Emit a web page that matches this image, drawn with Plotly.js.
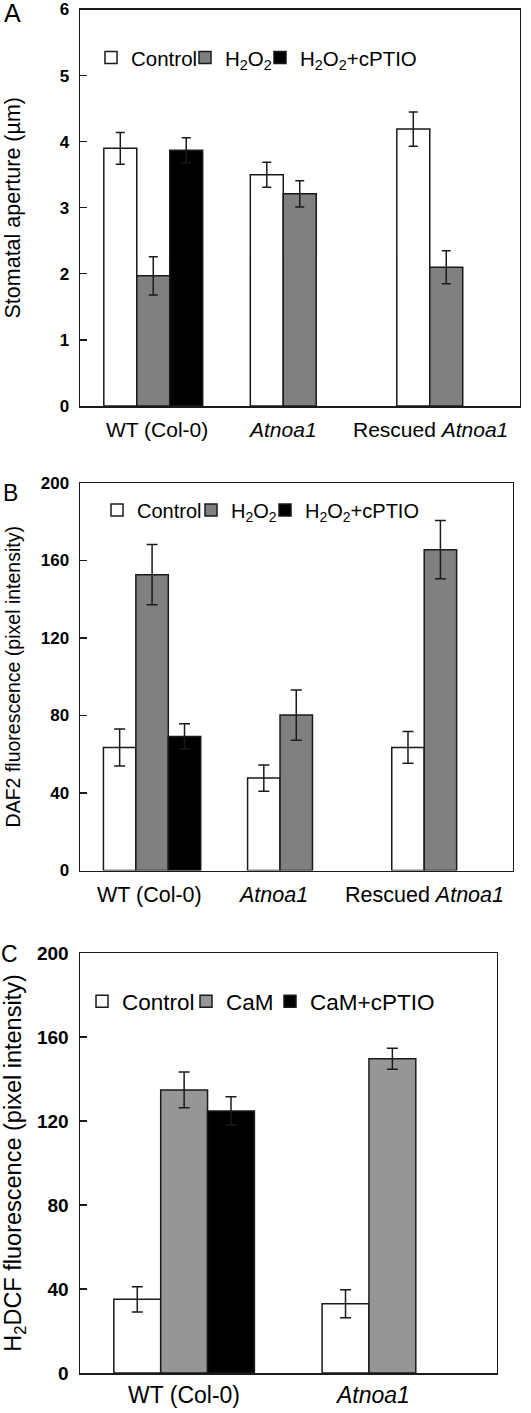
<!DOCTYPE html>
<html><head><meta charset="utf-8">
<script src="https://cdn.plot.ly/plotly-3.0.1.min.js"></script>
<style>html,body{margin:0;padding:0;background:#fff}</style>
</head><body><div id="chart" style="width:531px;height:1413px"></div>
<script>
// ---------- data ----------
const groupsAB = ['WT (Col-0)', 'Atnoa1', 'Rescued Atnoa1'];
const groupLabelsAB = ['WT (Col-0)', '<i>Atnoa1</i>', 'Rescued <i>Atnoa1</i>'];
const groupsC = ['WT (Col-0)', 'Atnoa1'];
const groupLabelsC = ['WT (Col-0)', '<i>Atnoa1</i>'];

const seriesNamesAB = ['Control', 'H<sub>2</sub>O<sub>2</sub>', 'H<sub>2</sub>O<sub>2</sub>+cPTIO'];
const seriesNamesC = ['Control', 'CaM', 'CaM+cPTIO'];

// Panel A: stomatal aperture (µm)
const aControl = [3.90, 3.50, 4.19];
const aControlErr = [0.24, 0.19, 0.26];
const aH2O2 = [1.97, 3.21, 2.10];
const aH2O2Err = [0.29, 0.20, 0.25];
const aCptio = [3.87, null, null];
const aCptioErr = [0.19, null, null];

// Panel B: DAF2 fluorescence
const bControl = [63.5, 47.7, 63.5];
const bControlErr = [9.5, 6.8, 8.2];
const bH2O2 = [152.7, 80.2, 165.6];
const bH2O2Err = [15.5, 13.0, 15.0];
const bCptio = [69.2, null, null];
const bCptioErr = [6.5, null, null];

// Panel C: H2DCF fluorescence
const cControl = [35.1, 33.0];
const cControlErr = [6.0, 6.7];
const cCaM = [134.8, 149.7];
const cCaMErr = [8.5, 5.0];
const cCptio = [124.8, null];
const cCptioErr = [6.8, null];

// ---------- styling ----------
const W = 531, H = 1413;
const FONT = 'Liberation Sans, Arial, sans-serif';
const fx = p => p / W;
const fy = p => 1 - p / H;
const fillsAB = ['#ffffff', '#808080', '#000000'];
const fillsC = ['#ffffff', '#969696', '#000000'];

function bar(x, y, err, name, fill, xa, ya, leg, capw) {
  return {
    type: 'bar', x: x, y: y, name: name, xaxis: xa, yaxis: ya, legend: leg,
    marker: {color: fill, line: {color: '#1a1a1a', width: 1.5}},
    error_y: {type: 'data', array: err, visible: true, color: '#1a1a1a', thickness: 1.5, width: capw},
    hoverinfo: 'skip'
  };
}

const traces = [
  bar(groupsAB, aControl, aControlErr, seriesNamesAB[0], fillsAB[0], 'x', 'y', 'legend', 4.5),
  bar(groupsAB, aH2O2, aH2O2Err, seriesNamesAB[1], fillsAB[1], 'x', 'y', 'legend2', 4.5),
  bar(groupsAB, aCptio, aCptioErr, seriesNamesAB[2], fillsAB[2], 'x', 'y', 'legend3', 4.5),
  bar(groupsAB, bControl, bControlErr, seriesNamesAB[0], fillsAB[0], 'x2', 'y2', 'legend4', 5.5),
  bar(groupsAB, bH2O2, bH2O2Err, seriesNamesAB[1], fillsAB[1], 'x2', 'y2', 'legend5', 5.5),
  bar(groupsAB, bCptio, bCptioErr, seriesNamesAB[2], fillsAB[2], 'x2', 'y2', 'legend6', 5.5),
  bar(groupsC, cControl, cControlErr, seriesNamesC[0], fillsC[0], 'x3', 'y3', 'legend7', 5.5),
  bar(groupsC, cCaM, cCaMErr, seriesNamesC[1], fillsC[1], 'x3', 'y3', 'legend8', 5.5),
  bar(groupsC, cCptio, cCptioErr, seriesNamesC[2], fillsC[2], 'x3', 'y3', 'legend9', 5.5)
];

function xaxis(domain, anchor) {
  return {domain: domain, anchor: anchor, type: 'category', showticklabels: false, ticks: '',
    showline: true, mirror: true, linecolor: '#1a1a1a', linewidth: 1.5, showgrid: false, zeroline: false, fixedrange: true};
}
function yaxis(domain, anchor, range, dtick, tickSize, title, titleSize, standoff) {
  return {domain: domain, anchor: anchor, range: range, dtick: dtick, tick0: 0,
    ticks: 'inside', ticklen: 7, tickwidth: 1.3, tickcolor: '#1a1a1a',
    showline: true, mirror: true, linecolor: '#1a1a1a', linewidth: 1.5,
    showgrid: false, zeroline: false, fixedrange: true, ticklabelstandoff: 6,
    tickfont: {family: FONT, size: tickSize, weight: 'bold', color: '#000'},
    title: {text: title, font: {family: FONT, size: titleSize, color: '#000'}, standoff: standoff}};
}

function legendAt(textStartPx, centerPx, size) {
  return {x: fx(textStartPx - 40), xanchor: 'left', y: fy(centerPx), yanchor: 'middle',
    orientation: 'h', bgcolor: 'rgba(0,0,0,0)', borderwidth: 0,
    font: {family: FONT, size: size, color: '#000'}, itemclick: false, itemdoubleclick: false};
}

const annotations = [];
function catLabels(cats, labels, xa, ya, shifts, yshift, size) {
  cats.forEach((c, i) => annotations.push({
    xref: xa, yref: ya, x: c, y: 0, text: labels[i], showarrow: false,
    xanchor: 'center', yanchor: 'middle', xshift: shifts[i], yshift: yshift,
    font: {family: FONT, size: size, color: '#000'}
  }));
}
catLabels(groupsAB, groupLabelsAB, 'x', 'y', [4, -17, -16], -23, 21);
catLabels(groupsAB, groupLabelsAB, 'x2', 'y2', [-3, -23, -16], -24.5, 21.5);
catLabels(groupsC, groupLabelsC, 'x3', 'y3', [0, -20], -22, 23);

[['A', 12, 12.5, 25], ['B', 10, 493, 23], ['C', 9.5, 954, 23]].forEach(p => annotations.push({
  xref: 'paper', yref: 'paper', x: fx(p[1]), y: fy(p[2]), text: p[0], showarrow: false,
  xanchor: 'center', yanchor: 'middle', font: {family: FONT, size: p[3], color: '#000'}
}));

const layout = {
  width: W, height: H, margin: {l: 0, r: 0, t: 0, b: 0},
  paper_bgcolor: '#fff', plot_bgcolor: '#fff',
  font: {family: FONT, color: '#000'},
  barmode: 'group', bargap: 0.325, bargroupgap: 0,
  xaxis: xaxis([fx(80), fx(519.5)], 'y'),
  yaxis: yaxis([fy(406), fy(9.5)], 'x', [0, 6], 1, 17, 'Stomatal aperture (µm)', 21.5, 33),
  xaxis2: xaxis([fx(80), fx(512.5)], 'y2'),
  yaxis2: yaxis([fy(870.5), fy(483)], 'x2', [0, 200], 40, 17, 'DAF2 fluorescence (pixel intensity)', 19.5, 15),
  xaxis3: xaxis([fx(80), fx(496.5)], 'y3'),
  yaxis3: yaxis([fy(1373), fy(953)], 'x3', [0, 200], 40, 19, 'H<sub>2</sub>DCF fluorescence (pixel intensity)', 23.5, 12),
  legend: legendAt(131, 57.7, 20.5),
  legend2: legendAt(225, 57.7, 20.5),
  legend3: legendAt(300, 57.7, 20.5),
  legend4: legendAt(137, 510, 20),
  legend5: legendAt(231, 510, 20),
  legend6: legendAt(305, 510, 20),
  legend7: legendAt(122, 1001.7, 22.5),
  legend8: legendAt(226, 1001.7, 22.5),
  legend9: legendAt(310, 1001.7, 22.5),
  annotations: annotations,
  showlegend: true
};

Plotly.newPlot('chart', traces, layout, {displayModeBar: false, staticPlot: true});
</script></body></html>
